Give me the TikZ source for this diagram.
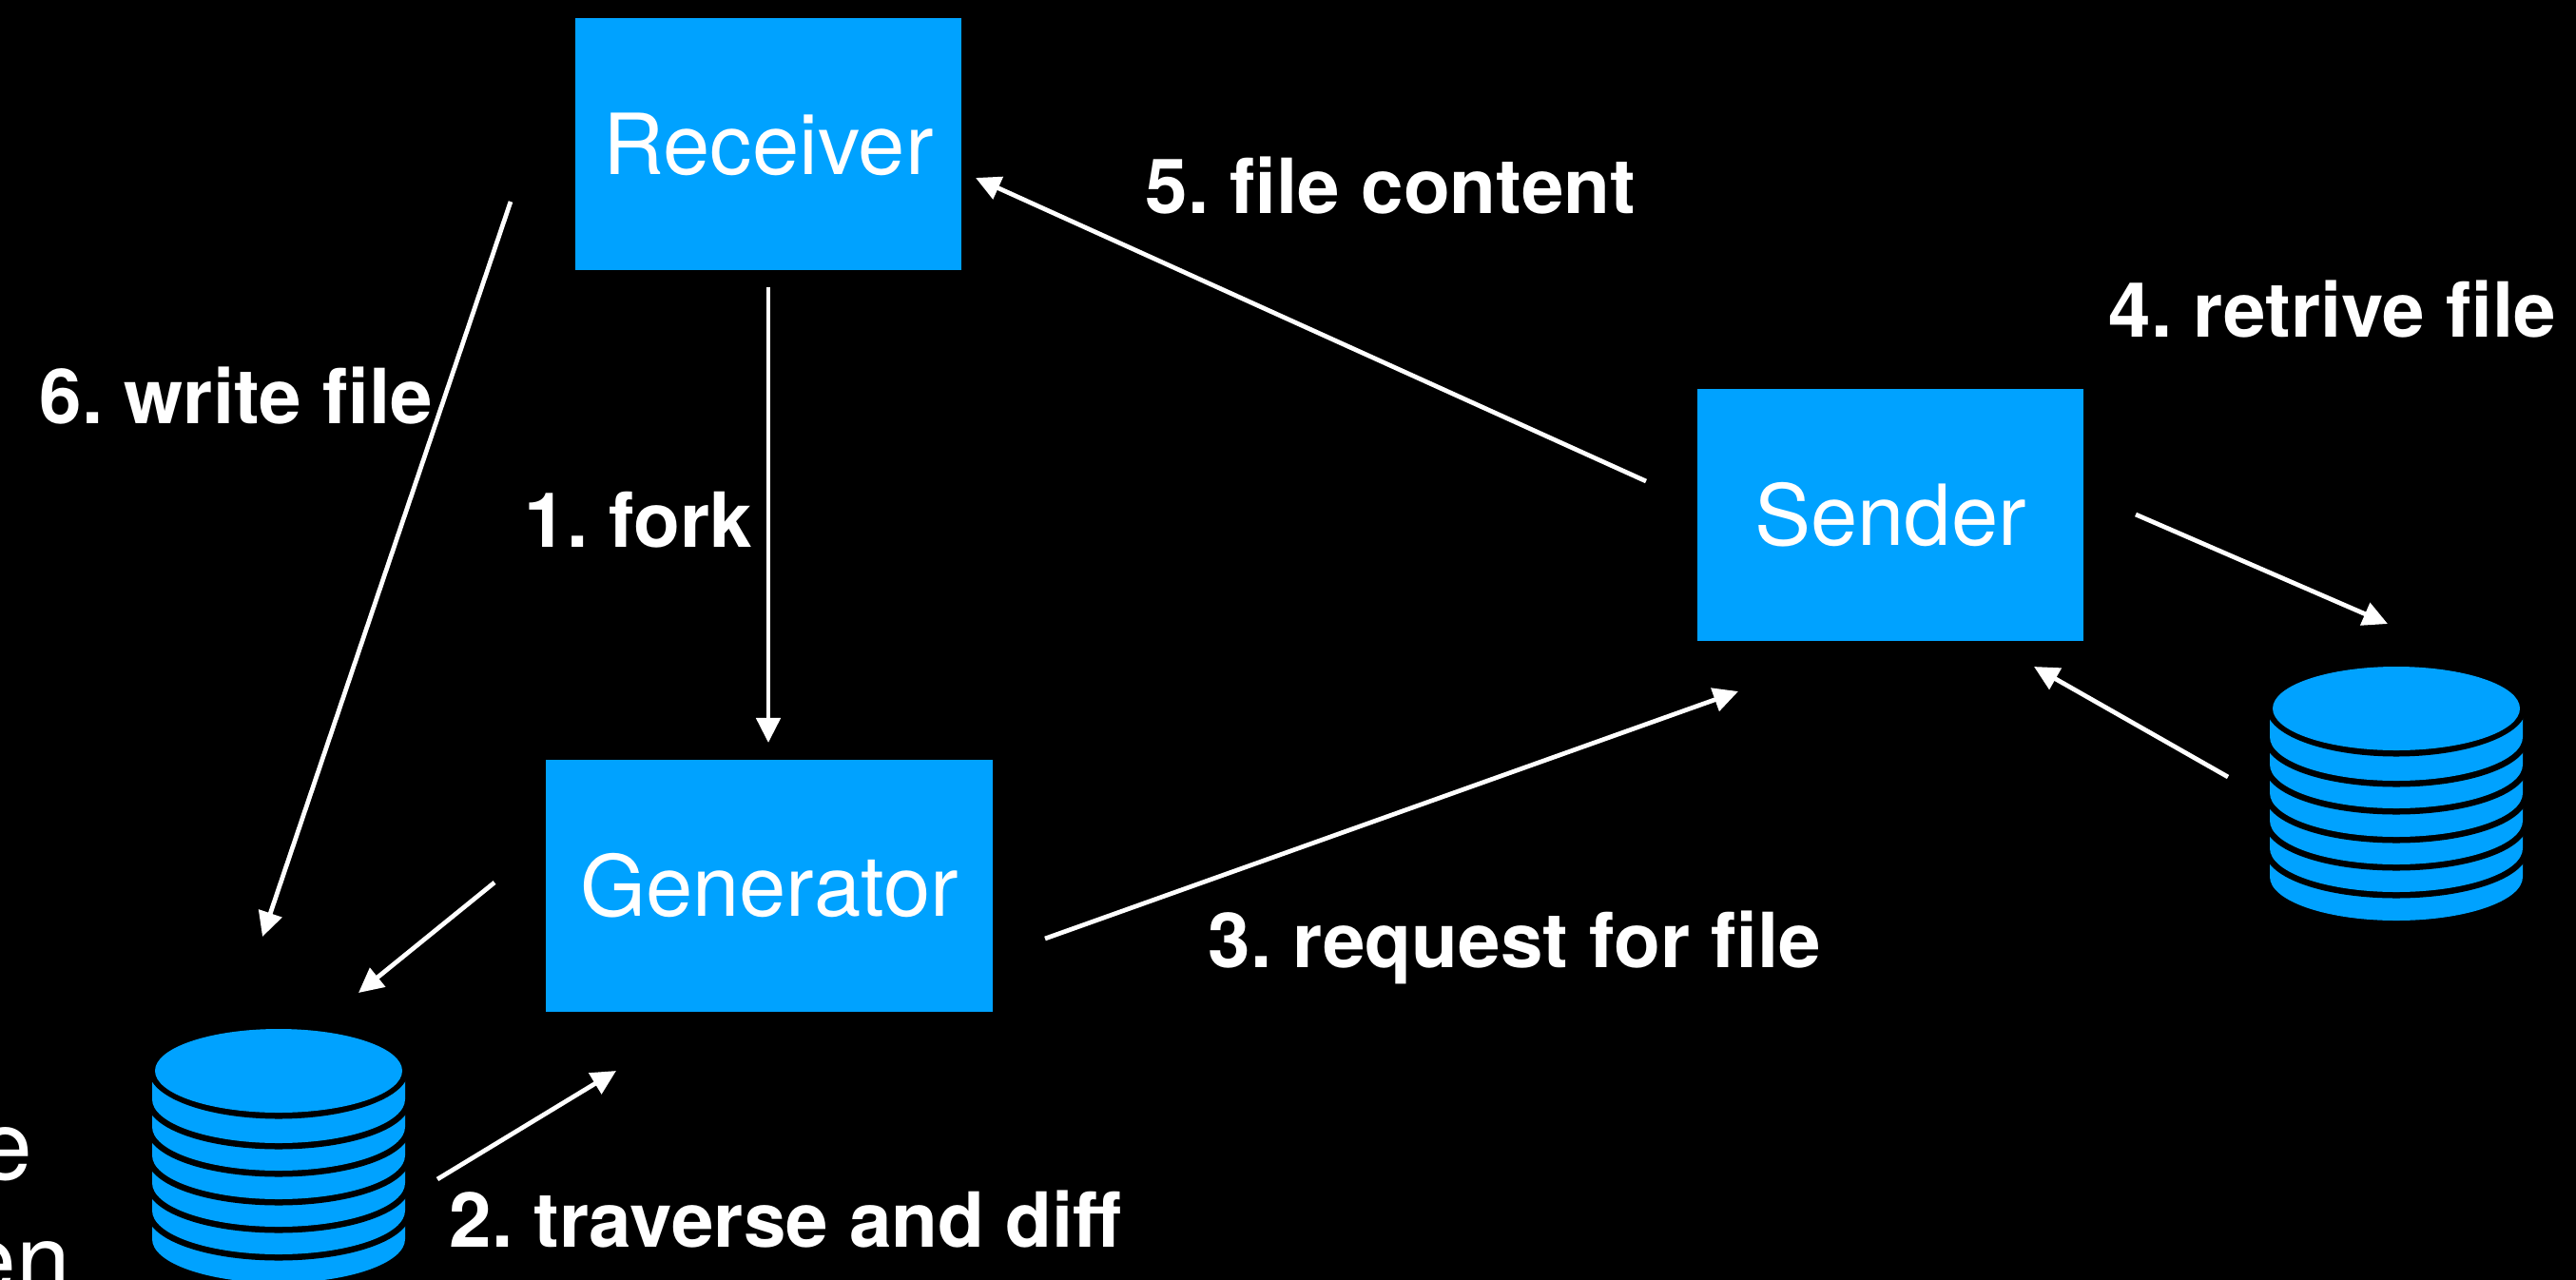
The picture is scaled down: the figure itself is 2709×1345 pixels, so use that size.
\documentclass[tikz,border=0pt]{standalone}
\usepackage{fontspec}
\setmainfont{TeX Gyre Heros}
\usetikzlibrary{arrows.meta,positioning}
\definecolor{procblue}{HTML}{00A2FF}
\frenchspacing
\tikzset{
	box/.style={fill=procblue,text=white,minimum height=2.65cm,inner sep=0pt,font=\fontsize{25.2}{28}\selectfont},
	lbl/.style={text=white,anchor=base west,inner sep=0pt,font=\bfseries\fontsize{22.75}{26}\selectfont},
	cut/.style={text=white,anchor=base east,inner sep=0pt,font=\fontsize{29}{34}\selectfont},
	flow/.style={white,line width=1.35pt,-{Triangle[length=.26cm,width=.25cm]}},
	disk/.pic={
		\foreach \yc in {177,147,118,89,59,30} {
			\filldraw[fill=procblue,draw=black,line width=.13cm] (-133,\yc-30) -- (-133,\yc) arc[start angle=180,end angle=0,x radius=133,y radius=46] -- (133,\yc-30) -- cycle;
			\fill[procblue] (-133,\yc-30) -- (-133,\yc) arc[start angle=180,end angle=0,x radius=133,y radius=46] -- (133,\yc-30) -- cycle;
		}
		\fill[black] (0,0) ellipse[x radius=136.5,y radius=50.5];
		\fill[procblue] (0,0) ellipse[x radius=130,y radius=44];
	}
}
\begin{document}
\begin{tikzpicture}[x=.01cm,y=-.01cm]
	\useasboundingbox (0,0) rectangle (2709,1345);
	\fill[black] (-10,-10) rectangle (2719,1355);
	\clip (0,0) rectangle (2709,1345);

	\node[box,minimum width=4.06cm] (recv) at (808,151.5) {Receiver};
	\node[box,minimum width=4.70cm] (gen) at (809,931.5) {Generator};
	\node[box,minimum width=4.06cm] (send) at (1988,541.5) {Sender};

	\pic at (293,1126) {disk}; % left stack, runs off the page
	\pic at (2520,745) {disk};

	\node[lbl] (lfive) at (1204,224) {5. file content};
	\node[lbl] (lfour) at (2217,354) {4. retrive file};
	\node[lbl] (lsix) at (41,445) {6. write file};
	\node[lbl] (lone) at (551,575) {1. fork};
	\node[lbl] (lthree) at (1270,1017) {3. request for file};
	\node[lbl] (ltwo) at (472,1311) {2. traverse and diff};
	\node[cut] (cuta) at (35,1240) {e};
	\node[cut] (cutb) at (75,1360) {en};

	\node[coordinate] (wfrom) at (537,212) {}; % write file
	\node[coordinate] (wto) at (276,985) {};
	\node[coordinate] (ffrom) at (808,302) {}; % fork
	\node[coordinate] (fto) at (808,781) {};
	\node[coordinate] (sfrom) at (520,928) {}; % generator <-> left stack
	\node[coordinate] (sto) at (377,1044) {};
	\node[coordinate] (tfrom) at (460,1240) {};
	\node[coordinate] (tto) at (648,1126) {};
	\node[coordinate] (qfrom) at (1099,987) {}; % request
	\node[coordinate] (qto) at (1828,727) {};
	\node[coordinate] (cfrom) at (1731,506) {}; % content
	\node[coordinate] (cto) at (1026,187) {};
	\node[coordinate] (rfrom) at (2246,541) {}; % sender <-> right stack
	\node[coordinate] (rto) at (2511,656) {};
	\node[coordinate] (bfrom) at (2343,817) {};
	\node[coordinate] (bto) at (2139,701) {};

	\draw[flow] (wfrom) -- (wto);
	\draw[flow] (ffrom) -- (fto);
	\draw[flow] (sfrom) -- (sto);
	\draw[flow] (tfrom) -- (tto);
	\draw[flow] (qfrom) -- (qto);
	\draw[flow] (cfrom) -- (cto);
	\draw[flow] (rfrom) -- (rto);
	\draw[flow] (bfrom) -- (bto);
\end{tikzpicture}
\end{document}
